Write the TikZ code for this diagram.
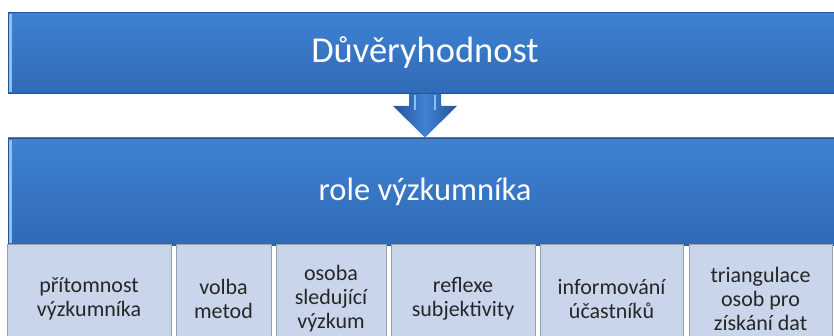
\documentclass[tikz,border=0pt]{standalone}
\usepackage{fontspec}
\setmainfont{Carlito}
\usetikzlibrary{calc}
\definecolor{boxblue}{RGB}{62,130,211}
\definecolor{boxbluedark}{RGB}{48,106,182}
\definecolor{edgeblue}{RGB}{38,84,150}
\definecolor{lightbox}{RGB}{201,213,235}
\definecolor{lightedge}{RGB}{150,160,178}
\definecolor{bevel}{RGB}{140,192,242}
\tikzset{
  bigbox/.style={draw=edgeblue, line width=0.8pt, top color=boxblue, bottom color=boxbluedark,
    text=white, minimum width=834pt, inner sep=0pt},
  smallbox/.style={draw=lightedge, line width=1pt, fill=lightbox, text=black!85, align=center,
    font=\fontsize{22}{24}\selectfont, minimum height=108pt, inner sep=0pt},
}
\begin{document}
\begin{tikzpicture}[x=1pt, y=-1pt]
  \useasboundingbox (0,0) rectangle (834,336);
  \clip (0,0) rectangle (834,336);
  % Horní bloky
  \node[bigbox, minimum height=81pt, font=\fontsize{36.5}{40}\selectfont] (trust) at (425,53) {Důvěryhodnost};
  \node[bigbox, minimum height=107pt, font=\fontsize{32.5}{38}\selectfont] (role) at (425,191.5) {role výzkumníka};
  \fill[bevel] ($(trust.north west)+(1,2)$) rectangle ($(trust.south west)+(4,-2)$);
  \fill[bevel] ($(role.north west)+(1,2)$) rectangle ($(role.south west)+(4,-2)$);
  % Šipka
  \coordinate (neck) at ($(trust.south)+(0,12)$);
  \shade[left color=edgeblue, right color=edgeblue, middle color=boxblue]
    ($(trust.south)+(-16,0)$) -- ($(neck)+(-16,0)$) -- ($(neck)+(-32,0)$) -- (role.north)
    -- ($(neck)+(32,0)$) -- ($(neck)+(16,0)$) -- ($(trust.south)+(16,0)$) -- cycle;
  \draw[bevel, line width=1.5pt] ($(trust.south)+(-10,1)$) -- ($(neck)+(-10,4)$);
  \draw[bevel, line width=1.5pt] ($(trust.south)+(10,1)$) -- ($(neck)+(10,4)$);
  % Spodní řada
  \node[smallbox, minimum width=164pt] (presence) at (89,299) {přítomnost\\výzkumníka};
  \node[smallbox, minimum width=95pt] (methods) at (223.5,299) {volba\\metod};
  \node[smallbox, minimum width=110pt] (observer) at (331,299) {osoba\\sledující\\výzkum};
  \node[smallbox, minimum width=144pt] (reflexion) at (463,299) {reflexe\\subjektivity};
  \node[smallbox, minimum width=143pt] (inform) at (611.5,299) {informování\\účastníků};
  \node[smallbox, minimum width=143pt] (triang) at (760.5,299) {triangulace\\osob pro\\získání dat};
\end{tikzpicture}
\end{document}
